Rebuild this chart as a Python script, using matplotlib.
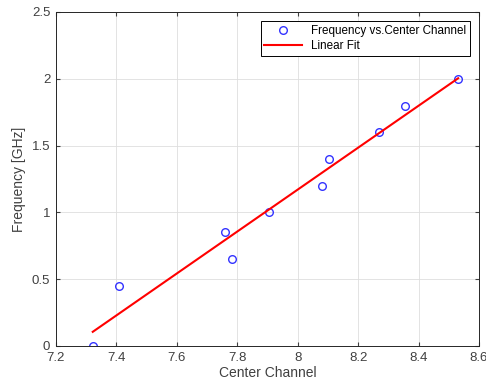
import numpy as np
import matplotlib.pyplot as plt

plt.rcParams['font.family'] = ['Liberation Sans', 'DejaVu Sans']

# measured points
center_channel = [7.322, 7.409, 7.759, 7.783, 7.905, 8.081, 8.104, 8.270, 8.356, 8.531]
frequency = [0.0, 0.45, 0.85, 0.65, 1.0, 1.2, 1.4, 1.6, 1.8, 2.0]

x = np.array(center_channel)
y = np.array(frequency)
p = np.polyfit(x, y, 1)
xf = np.array([x.min(), x.max()])
yf = np.polyval(p, xf)

fig = plt.figure(figsize=(4.86, 3.87), dpi=100)
ax = fig.add_axes([0.115, 0.106, 0.8706, 0.863])

ax.plot(x, y, 'o', mfc='none', mec='#3333ff', mew=1.0, ms=5.5,
        label='Frequency vs.Center Channel')
ax.plot(xf, yf, '-', color='#ff0000', lw=1.5, label='Linear Fit')

ax.set_xlim(7.2, 8.6)
ax.set_ylim(0, 2.5)
ax.set_xticks(np.arange(7.2, 8.61, 0.2))
ax.set_xticklabels(['7.2', '7.4', '7.6', '7.8', '8', '8.2', '8.4', '8.6'])
ax.set_yticks([0, 0.5, 1, 1.5, 2, 2.5])
ax.set_yticklabels(['0', '0.5', '1', '1.5', '2', '2.5'])
ax.grid(True, color='#dedede', lw=0.6)
ax.set_axisbelow(True)
ax.tick_params(direction='in', length=3, labelsize=9.5, colors='#404040',
               top=True, right=True, pad=4)
for s in ax.spines.values():
    s.set_color('#262626')
    s.set_linewidth(0.7)

ax.set_xlabel('Center Channel', fontsize=10, color='#404040', labelpad=2)
ax.set_ylabel('Frequency [GHz]', fontsize=10, color='#404040', labelpad=4)

leg = ax.legend(loc='upper right', fontsize=8.4, fancybox=False, framealpha=1,
                edgecolor='black', borderpad=0.3, labelspacing=0.3,
                handlelength=3.2, borderaxespad=0.8)
leg.get_frame().set_linewidth(0.7)

fig.savefig('out.png', dpi=100)
